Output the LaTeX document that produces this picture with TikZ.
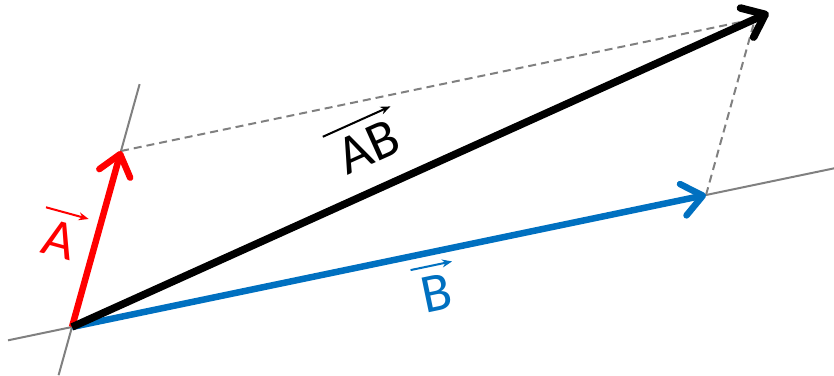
\documentclass[tikz,border=0pt]{standalone}
\usepackage{fontspec}
\setmainfont{Carlito}
\usepackage{xcolor}
\definecolor{vecred}{RGB}{255,0,0}
\definecolor{vecblue}{RGB}{0,112,192}
\definecolor{axisgray}{RGB}{128,128,128}
\usetikzlibrary{
  arrows.meta,
  calc
}

\begin{document}
\begin{tikzpicture}[
    x=1pt, y=1pt,
    vec/.style={line width=6.5pt, -{Straight Barb[round,length=20pt,width=32pt]}},
    axis/.style={axisgray, line width=2pt},
    guide/.style={axisgray, line width=2pt, dash pattern=on 8pt off 5pt},
    veclabel/.style={font=\fontsize{55}{60}\selectfont, inner xsep=6pt, inner ysep=10pt},
    labarrow/.style={line width=2pt, -{Stealth[length=10pt,width=8pt]}}
  ]
  \useasboundingbox (0,0) rectangle (834,375);

  %% --- points ---
  \coordinate (O) at (72,48);
  \coordinate (A) at (121,224);
  \coordinate (B) at (706,180);
  \coordinate (S) at ($(A)+(B)-(O)$);
  \coordinate (Stip) at ($(O)!1.02!(S)$);

  %% --- axes ---
  \draw[axis] ($(O)!-0.274!(A)$) -- ($(O)!1.38!(A)$);
  \draw[axis] ($(O)!-0.101!(B)$) -- ($(O)!1.202!(B)$);

  %% --- parallelogram ---
  \draw[guide] (A) -- (S);
  \draw[guide] (B) -- (S);

  %% --- vectors ---
  \draw[vec, vecred] (O) -- (A);
  \draw[vec, vecblue] (O) -- (B);
  \draw[vec, line width=7.5pt] (O) -- (Stip);

  %% --- labels ---
  \node[veclabel, text=vecred, rotate=-15.3] (lA) at (60,135) {A};
  \draw[labarrow, vecred] (lA.north west) -- (lA.north east);

  \node[veclabel, rotate=24.2] (lAB) at (368,228) {AB};
  \draw[labarrow] (lAB.north west) -- (lAB.north east);

  \node[veclabel, text=vecblue, rotate=11.8] (lB) at (437,82) {B};
  \draw[labarrow, vecblue] (lB.north west) -- (lB.north east);
\end{tikzpicture}
\end{document}
